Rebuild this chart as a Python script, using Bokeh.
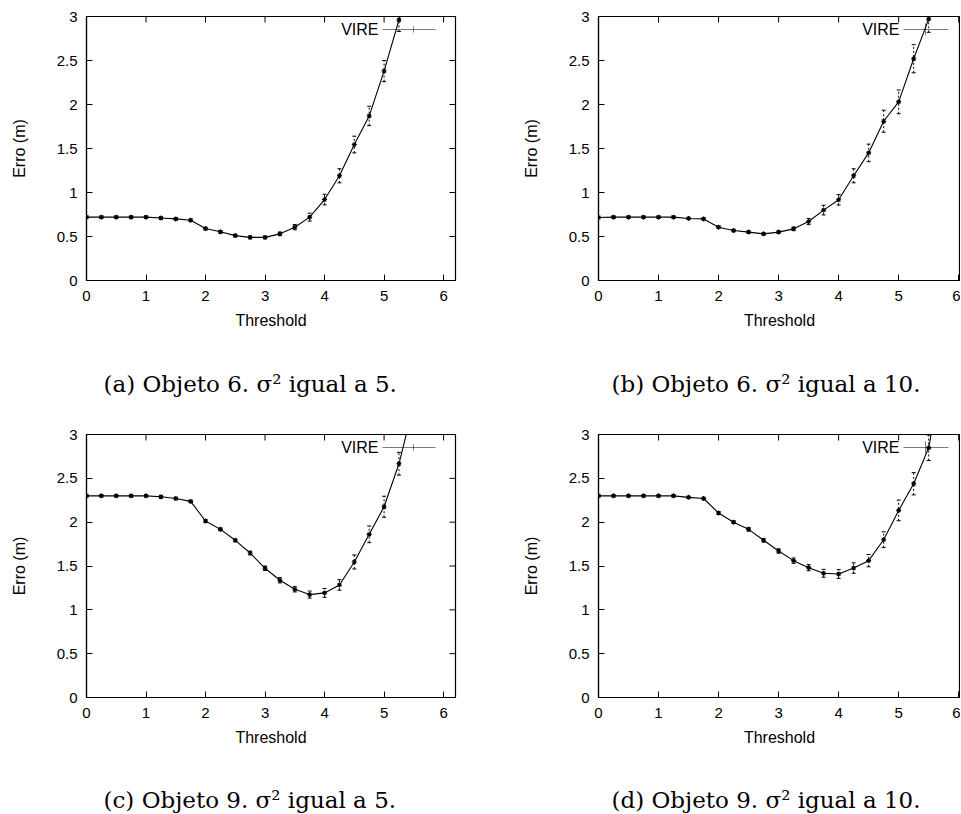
import math
from bokeh.plotting import figure
from bokeh.layouts import column, row
from bokeh.models import (ColumnDataSource, FixedTicker, NumeralTickFormatter,
                          BoxAnnotation, Label, Range1d)
from bokeh.embed import file_html
from bokeh.resources import INLINE

# ---------------- data ----------------
x_a = [0, 0.25, 0.5, 0.75, 1, 1.25, 1.5, 1.75, 2, 2.25, 2.5, 2.75, 3, 3.25, 3.5, 3.75, 4, 4.25, 4.5, 4.75, 5, 5.25, 5.5]
y_a = [0.72, 0.72, 0.72, 0.72, 0.72, 0.71, 0.70, 0.685, 0.59, 0.553, 0.51, 0.49, 0.49, 0.53, 0.606, 0.72, 0.92, 1.19, 1.545, 1.87, 2.38, 2.96, 3.55]
e_a = [0.012, 0.012, 0.012, 0.012, 0.012, 0.012, 0.012, 0.012, 0.015, 0.015, 0.015, 0.015, 0.015, 0.02, 0.03, 0.045, 0.06, 0.08, 0.095, 0.11, 0.12, 0.13, 0.14]

x_b = [0, 0.25, 0.5, 0.75, 1, 1.25, 1.5, 1.75, 2, 2.25, 2.5, 2.75, 3, 3.25, 3.5, 3.75, 4, 4.25, 4.5, 4.75, 5, 5.25, 5.5, 5.75]
y_b = [0.716, 0.72, 0.72, 0.72, 0.72, 0.72, 0.705, 0.70, 0.606, 0.568, 0.55, 0.53, 0.55, 0.587, 0.67, 0.80, 0.917, 1.19, 1.45, 1.81, 2.03, 2.52, 2.97, 3.5]
e_b = [0.012, 0.012, 0.012, 0.012, 0.012, 0.012, 0.012, 0.012, 0.012, 0.012, 0.012, 0.012, 0.015, 0.02, 0.035, 0.055, 0.06, 0.08, 0.10, 0.125, 0.135, 0.16, 0.15, 0.16]

x_c = [0, 0.25, 0.5, 0.75, 1, 1.25, 1.5, 1.75, 2, 2.25, 2.5, 2.75, 3, 3.25, 3.5, 3.75, 4, 4.25, 4.5, 4.75, 5, 5.25, 5.5]
y_c = [2.30, 2.30, 2.30, 2.30, 2.30, 2.29, 2.27, 2.237, 2.013, 1.918, 1.793, 1.648, 1.474, 1.337, 1.234, 1.174, 1.193, 1.284, 1.546, 1.861, 2.176, 2.666, 3.35]
e_c = [0.012, 0.012, 0.012, 0.012, 0.012, 0.012, 0.012, 0.012, 0.015, 0.015, 0.015, 0.02, 0.025, 0.03, 0.03, 0.04, 0.05, 0.06, 0.08, 0.095, 0.12, 0.13, 0.14]

x_d = [0, 0.25, 0.5, 0.75, 1, 1.25, 1.5, 1.75, 2, 2.25, 2.5, 2.75, 3, 3.25, 3.5, 3.75, 4, 4.25, 4.5, 4.75, 5, 5.25, 5.5, 5.75]
y_d = [2.30, 2.30, 2.30, 2.30, 2.30, 2.30, 2.283, 2.27, 2.104, 2.0, 1.918, 1.793, 1.671, 1.561, 1.481, 1.417, 1.409, 1.477, 1.561, 1.80, 2.134, 2.438, 2.848, 3.8]
e_d = [0.012, 0.012, 0.012, 0.012, 0.012, 0.012, 0.012, 0.012, 0.015, 0.015, 0.02, 0.02, 0.025, 0.03, 0.035, 0.045, 0.05, 0.06, 0.07, 0.09, 0.118, 0.127, 0.145, 0.15]

x_ticks = [0, 1, 2, 3, 4, 5, 6]
y_ticks = [0, 0.5, 1, 1.5, 2, 2.5, 3]
series_name = "VIRE"
x_label = "Threshold"
y_label = "Erro (m)"
captions = ["(a) Objeto 6. σ² igual a 5.", "(b) Objeto 6. σ² igual a 10.",
            "(c) Objeto 9. σ² igual a 5.", "(d) Objeto 9. σ² igual a 10."]

SANS = "Liberation Sans"
SERIF = "DejaVu Serif"
Y_MAX = 3


def style_axis(ax, ticks):
    ax.ticker = FixedTicker(ticks=ticks)
    ax.major_tick_in = 6
    ax.major_tick_out = 0
    ax.minor_tick_line_color = None
    ax.major_tick_line_color = "black"
    ax.axis_line_color = "black"
    ax.axis_line_width = 1.2
    ax.major_label_text_font = SANS
    ax.major_label_text_color = "black"
    ax.major_label_text_font_size = "15px"
    ax.axis_label_text_font = SANS
    ax.axis_label_text_font_style = "normal"
    ax.axis_label_text_font_size = "16px"
    ax.axis_label_text_color = "black"


def panel(xs, ys, es, width, height, bl, br, bt, bb, x_end, mirror_right,
          leg_x0, leg_x1, leg_y_top, bar_x, bar_h):
    p = figure(width=width, height=height, output_backend="svg", toolbar_location=None,
               x_range=Range1d(0, x_end), y_range=Range1d(0, Y_MAX),
               min_border_left=bl, min_border_right=br, min_border_top=bt, min_border_bottom=bb)
    frame_h = height - bt - bb
    leg_y = frame_h - leg_y_top
    p.grid.visible = False
    p.outline_line_color = "black"
    p.outline_line_width = 1.2
    p.background_fill_color = "white"
    p.border_fill_color = "white"

    style_axis(p.xaxis[0], x_ticks)
    style_axis(p.yaxis[0], y_ticks)
    p.xaxis[0].axis_label = x_label
    p.xaxis[0].axis_label_standoff = 8
    p.xaxis[0].major_label_standoff = 10
    p.yaxis[0].axis_label = y_label
    p.yaxis[0].axis_label_standoff = 26
    p.yaxis[0].major_label_standoff = 9
    p.yaxis[0].formatter = NumeralTickFormatter(format="0.[0]")

    # mirrored inward ticks on top (and right) border, clipped by the frame
    p.scatter(x=x_ticks, y=[Y_MAX] * len(x_ticks), marker="dash", angle=math.pi / 2,
              size=12, line_color="black", line_width=1)
    if mirror_right:
        p.scatter(x=[x_end] * len(y_ticks), y=y_ticks, marker="dash",
                  size=12, line_color="black", line_width=1)

    src = ColumnDataSource(dict(x=xs, y=ys,
                                lo=[y - e for y, e in zip(ys, es)],
                                hi=[y + e for y, e in zip(ys, es)]))
    p.segment(x0="x", y0="lo", x1="x", y1="hi", source=src, line_color="black",
              line_width=1, line_dash="2 2")
    p.scatter(x="x", y="hi", source=src, marker="dash", size=4, line_color="black", line_width=1)
    p.scatter(x="x", y="lo", source=src, marker="dash", size=4, line_color="black", line_width=1)
    p.line(x="x", y="y", source=src, line_color="black", line_width=1.1)
    p.scatter(x="x", y="y", source=src, marker="asterisk", size=5,
              line_color="black", line_width=1.1)

    # gnuplot-style key: label on the left, sample line on the right
    p.add_layout(BoxAnnotation(left=leg_x0, right=leg_x1, bottom=leg_y, top=leg_y,
                               left_units="screen", right_units="screen",
                               bottom_units="screen", top_units="screen",
                               line_color="black", line_width=1, fill_alpha=0))
    p.add_layout(BoxAnnotation(left=bar_x, right=bar_x, bottom=leg_y - bar_h, top=leg_y + bar_h,
                               left_units="screen", right_units="screen",
                               bottom_units="screen", top_units="screen",
                               line_color="black", line_width=1, fill_alpha=0))
    p.add_layout(Label(x=leg_x0 - 4, y=leg_y, x_units="screen", y_units="screen",
                       text=series_name, text_align="right", text_baseline="middle",
                       text_font=SANS, text_font_size="16px", text_color="black"))
    return p


def caption_fig(text, width, height, cap_x, cap_y):
    c = figure(width=width, height=height, output_backend="svg", toolbar_location=None,
               x_range=Range1d(0, 1), y_range=Range1d(0, 1),
               x_axis_location=None, y_axis_location=None, min_border=0)
    c.grid.visible = False
    c.outline_line_color = None
    c.background_fill_color = "white"
    c.border_fill_color = "white"
    c.add_layout(Label(x=cap_x, y=cap_y, x_units="screen", y_units="screen",
                       text=text, text_align="left", text_baseline="middle",
                       text_font=SERIF, text_font_size="23px", text_color="black"))
    return c


pa = panel(x_a, y_a, e_a, 488, 344, 86, 33, 16, 64, 6.2, True, 296, 349, 13, 327, 3)
pb = panel(x_b, y_b, e_b, 472, 344, 110, 0, 16, 64, 6.03, False, 305, 350, 13, 327, 6)
pc = panel(x_c, y_c, e_c, 488, 353, 86, 33, 26, 64, 6.2, True, 296, 349, 13, 327, 3)
pd = panel(x_d, y_d, e_d, 472, 353, 110, 0, 26, 64, 6.03, False, 305, 350, 13, 327, 6)

ca = caption_fig(captions[0], 488, 64, 103, 25)
cb = caption_fig(captions[1], 472, 64, 123, 25)
cc = caption_fig(captions[2], 488, 53, 103, 15)
cd = caption_fig(captions[3], 472, 53, 123, 15)

layout = column(row(pa, pb), row(ca, cb), row(pc, pd), row(cc, cd))
open("out.html", "w").write(file_html(layout, INLINE))
